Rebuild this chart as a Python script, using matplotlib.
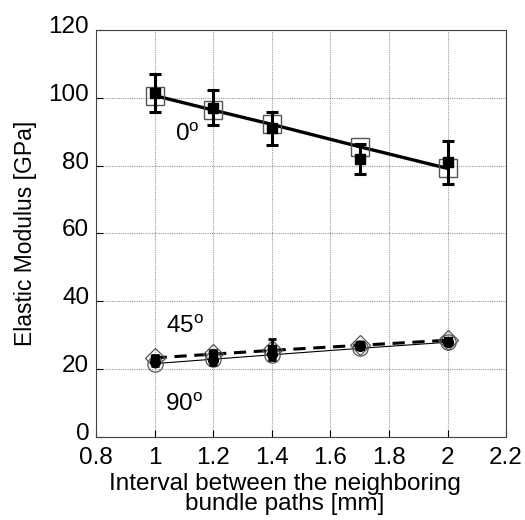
import numpy as np
import matplotlib
matplotlib.use("Agg")
import matplotlib.pyplot as plt
import matplotlib.transforms as mtransforms

plt.rcParams['font.family'] = ['Liberation Sans', 'DejaVu Sans']
plt.rcParams['mathtext.fontset'] = 'custom'
plt.rcParams['mathtext.rm'] = 'Liberation Sans'

interval = [1.0, 1.2, 1.4, 1.7, 2.0]

# 0 degree
exp0 = [101.5, 97.1, 91.0, 82.0, 81.0]
err0 = [5.7, 5.2, 4.9, 4.3, 6.3]
model0 = [100.7, 96.4, 92.2, 85.6, 79.2]

# 45 degree
exp45 = [23.0, 24.3, 25.8, 27.0, 28.3]
err45 = [1.0, 1.2, 3.0, 1.0, 1.0]
model45 = [23.3, 24.4, 25.5, 27.0, 28.5]

# 90 degree
exp90 = [22.0, 22.8, 24.3, 26.8, 28.0]
err90 = [1.0, 1.5, 1.2, 0.8, 1.0]
model90 = [21.6, 22.9, 24.2, 26.1, 27.9]

xticks = [0.8, 1.0, 1.2, 1.4, 1.6, 1.8, 2.0, 2.2]
xticklabels = ['0.8', '1', '1.2', '1.4', '1.6', '1.8', '2', '2.2']
yticks = [0, 20, 40, 60, 80, 100, 120]

fig = plt.figure(figsize=(5.25, 5.2), dpi=100)
ax = fig.add_axes([0.183, 0.160, 0.781, 0.782])

# 0 deg
ax.plot(interval, model0, '-', color='black', lw=2.4, zorder=3)
ax.plot(interval, model0, 's', ms=13, mfc='none', mec='#555555', mew=1.0, zorder=4)
ax.errorbar(interval, exp0, yerr=err0, fmt='s', color='black', ms=7,
            elinewidth=2.2, capsize=4, capthick=2.2, zorder=5)

# 45 deg
ax.plot(interval, model45, '--', color='black', lw=2.2, dashes=(4, 2.5), zorder=3)
ax.plot(interval, model45, 'D', ms=10, mfc='none', mec='#555555', mew=0.9, zorder=4)
ax.errorbar(interval, exp45, yerr=err45, fmt='s', color='black', ms=6,
            elinewidth=2.0, capsize=3, capthick=2.0, zorder=5)

# 90 deg
ax.plot(interval, model90, '-', color='black', lw=0.8, zorder=3)
ax.plot(interval, model90, 'o', ms=11, mfc='none', mec='#555555', mew=0.9, zorder=4)
ax.errorbar(interval, exp90, yerr=err90, fmt='o', color='black', ms=7,
            elinewidth=2.0, capsize=3, capthick=2.0, zorder=5)

ax.text(1.07, 87.4, r'0$^{\mathrm{o}}$', fontsize=17.5, color='black')
ax.text(1.04, 30.7, r'45$^{\mathrm{o}}$', fontsize=17.5, color='black')
ax.text(1.035, 7.5, r'90$^{\mathrm{o}}$', fontsize=17.5, color='black')

ax.set_xlim(0.8, 2.2)
ax.set_ylim(0, 120)
ax.set_xticks(xticks)
ax.set_xticklabels(xticklabels)
ax.set_yticks(yticks)
ax.tick_params(direction='in', labelsize=17.5, length=5, width=0.8)
ax.tick_params(axis='x', pad=7)
ax.tick_params(axis='y', pad=5)
ax.grid(True, linestyle=(0, (1, 1)), color='#999999', lw=0.8)
ax.set_axisbelow(True)
for s in ax.spines.values():
    s.set_linewidth(0.8)
    s.set_color('#444444')

# nudge y tick labels slightly upward
offset = mtransforms.ScaledTranslation(0, 4 / 72, fig.dpi_scale_trans)
for lab in ax.get_yticklabels():
    lab.set_transform(lab.get_transform() + offset)

ax.set_xlabel('Interval between the neighboring\nbundle paths [mm]', fontsize=17.5, labelpad=0, linespacing=0.92)
ax.xaxis.set_label_coords(0.46, -0.088, transform=ax.transAxes)
ax.xaxis.label.set_verticalalignment('top')
ax.set_ylabel('Elastic Modulus [GPa]', fontsize=16.5, labelpad=8)

fig.savefig('out.png', dpi=100)
